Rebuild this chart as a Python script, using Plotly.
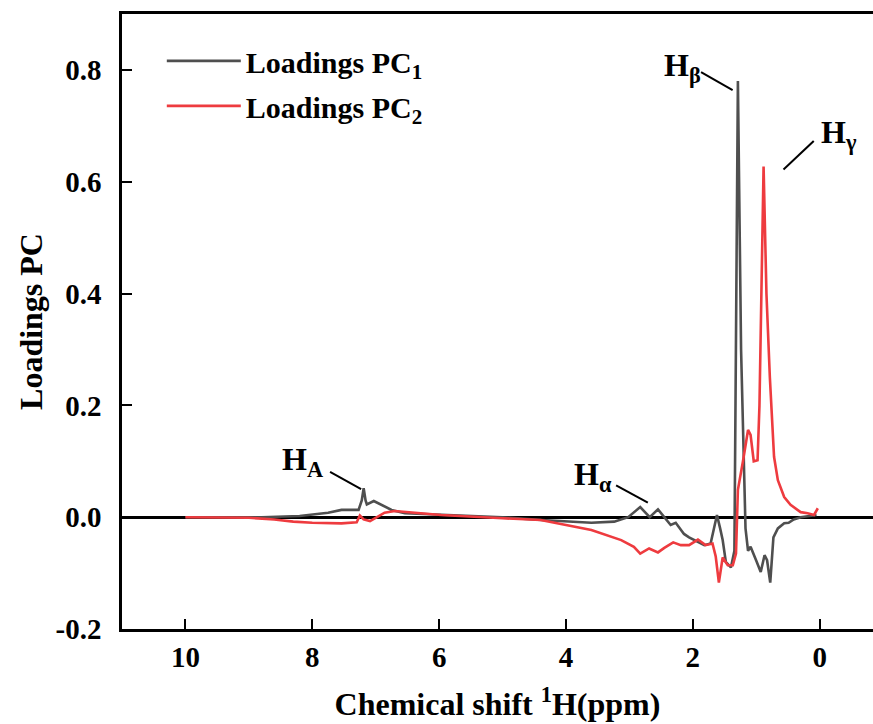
import plotly.graph_objects as go

# ---- data ----
pc1_x = [10.0, 9.0, 8.8, 8.2, 7.75, 7.54, 7.38, 7.27, 7.22, 7.19, 7.16, 7.14, 7.03, 6.93, 6.75, 6.54,
         5.97, 5.0, 4.39, 3.6, 3.24, 3.02, 2.83, 2.68, 2.55, 2.45, 2.35, 2.27, 2.14, 2.06, 1.98,
         1.82, 1.72, 1.67, 1.62, 1.57, 1.53, 1.48, 1.40, 1.345, 1.325, 1.29, 1.24, 1.17, 1.13,
         1.09, 1.0, 0.93, 0.87, 0.83, 0.78, 0.73, 0.66, 0.56, 0.49, 0.41, 0.3, 0.05]
pc1_y = [0.0, 0.0, 0.0, 0.002, 0.008, 0.013, 0.013, 0.013, 0.03, 0.052, 0.03, 0.023, 0.029, 0.023,
         0.013, 0.007, 0.004, 0.0, -0.005, -0.01, -0.008, 0.0, 0.018, 0.0, 0.014, 0.0, -0.014,
         -0.01, -0.03, -0.036, -0.041, -0.05, -0.047, -0.02, 0.004, -0.02, -0.041, -0.08, -0.09,
         -0.06, 0.3, 0.78, 0.3, -0.02, -0.06, -0.053, -0.078, -0.098, -0.068, -0.077, -0.117,
         -0.036, -0.02, -0.011, -0.01, -0.004, 0.0, 0.004]

pc2_x = [10.0, 9.0, 8.6, 8.3, 8.0, 7.54, 7.3, 7.25, 7.19, 7.09, 6.98, 6.86, 6.7, 6.43, 5.97, 5.0,
         4.4, 3.6, 3.13, 2.93, 2.83, 2.69, 2.61, 2.55, 2.45, 2.31, 2.19, 2.06, 1.92, 1.8, 1.69,
         1.64, 1.59, 1.53, 1.45, 1.37, 1.32, 1.29, 1.21, 1.13, 1.09, 1.04, 0.98, 0.95, 0.885,
         0.84, 0.786, 0.72, 0.66, 0.56, 0.46, 0.3, 0.19, 0.09, 0.03]
pc2_y = [0.0, -0.001, -0.004, -0.008, -0.01, -0.011, -0.009, 0.003, -0.004, -0.007, 0.0, 0.008,
         0.011, 0.008, 0.004, -0.002, -0.005, -0.023, -0.041, -0.053, -0.065, -0.056, -0.06,
         -0.063, -0.055, -0.045, -0.05, -0.05, -0.04, -0.05, -0.047, -0.07, -0.117, -0.072,
         -0.086, -0.086, -0.065, 0.049, 0.10, 0.156, 0.147, 0.1, 0.102, 0.2, 0.627, 0.4, 0.25,
         0.108, 0.066, 0.036, 0.022, 0.009, 0.007, 0.004, 0.016]

series_names = ["Loadings PC<sub>1</sub>", "Loadings PC<sub>2</sub>"]
series_colors = ["#4f4f4f", "#ee3b3f"]

x_ticks = [10, 8, 6, 4, 2, 0]
y_ticks = [-0.2, 0.0, 0.2, 0.4, 0.6, 0.8]
y_tick_text = ["-0.2", "0.0", "0.2", "0.4", "0.6", "0.8"]

peak_labels = ["H<sub>β</sub>", "H<sub>γ</sub>", "H<sub>A</sub>", "H<sub>α</sub>"]
label_pos = [(2.17, 0.805), (-0.30, 0.685), (8.15, 0.099), (3.58, 0.072)]
leader_lines = [(1.871, 0.796, 1.373, 0.764), (0.094, 0.673, 0.571, 0.622),
                (7.72, 0.081, 7.23, 0.050), (3.21, 0.057, 2.71, 0.026)]

FONT = "Liberation Serif"

fig = go.Figure()
for i, (xs, ys, name, col) in enumerate([(pc1_x, pc1_y, series_names[0], series_colors[0]),
                                         (pc2_x, pc2_y, series_names[1], series_colors[1])]):
    fig.add_trace(go.Scatter(x=xs, y=ys, mode="lines", name=name, legendgroup=f"g{i}",
                             line=dict(color=col, width=2.6)))

for (x0, y0, x1, y1) in leader_lines:
    fig.add_shape(type="line", x0=x0, y0=y0, x1=x1, y1=y1, xref="x", yref="y",
                  line=dict(color="black", width=2))

for txt, (lx, ly) in zip(peak_labels, label_pos):
    fig.add_annotation(x=lx, y=ly, text=txt, showarrow=False, xref="x", yref="y",
                       font=dict(family=FONT, size=32, color="black", weight="bold"))

fig.update_layout(
    width=873, height=724,
    margin=dict(l=122, r=0, t=14, b=95),
    paper_bgcolor="white", plot_bgcolor="white",
    showlegend=True,
    legend=dict(x=0.053, y=0.966, xanchor="left", yanchor="top",
                bgcolor="rgba(0,0,0,0)", borderwidth=0,
                font=dict(family=FONT, size=30, color="black", weight="bold"),
                tracegroupgap=3, itemwidth=74),
    font=dict(family=FONT, color="black"),
)

fig.update_xaxes(range=[11, -0.84], tickmode="array", tickvals=x_ticks,
                 ticks="inside", ticklen=10, tickwidth=2, tickcolor="black",
                 showline=True, linecolor="black", linewidth=2.5, mirror=True,
                 showgrid=False, zeroline=False,
                 tickfont=dict(family=FONT, size=29, color="black", weight="bold"),
                 title=dict(text="Chemical shift <sup>1</sup>H(ppm)", standoff=22,
                            font=dict(family=FONT, size=32, color="black", weight="bold")))
fig.update_yaxes(range=[-0.2, 0.9], tickmode="array", tickvals=y_ticks, ticktext=y_tick_text,
                 ticks="inside", ticklen=10, tickwidth=2, tickcolor="black",
                 showline=True, linecolor="black", linewidth=2.5, mirror=False,
                 showgrid=False, zeroline=True, zerolinecolor="black", zerolinewidth=2.5,
                 ticklabelstandoff=12,
                 tickfont=dict(family=FONT, size=29, color="black", weight="bold"),
                 title=dict(text="Loadings PC", standoff=4,
                            font=dict(family=FONT, size=32, color="black", weight="bold")))

fig.write_html("out.html")
